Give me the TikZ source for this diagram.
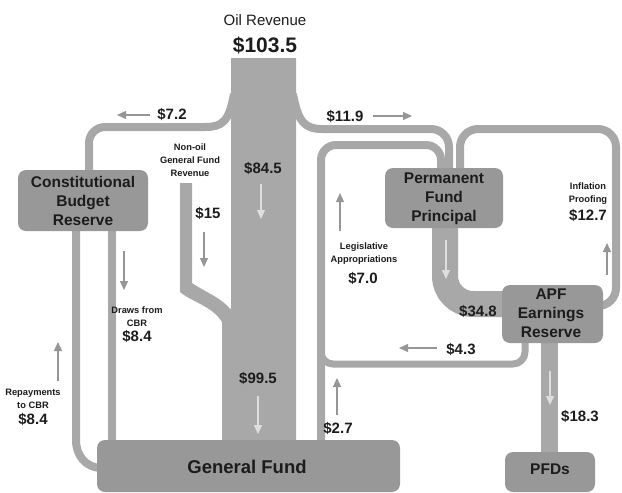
\documentclass[tikz,border=0pt]{standalone}
\usepackage{fontspec}
\setmainfont{Liberation Sans}
\usetikzlibrary{arrows.meta}
\definecolor{stripgray}{RGB}{168,168,168}
\definecolor{boxgray}{RGB}{152,152,152}
\definecolor{arrowgray}{RGB}{150,150,150}
\definecolor{lightarrow}{RGB}{222,222,222}
\definecolor{txt}{RGB}{28,28,28}
\begin{document}
\begin{tikzpicture}[x=1pt,y=-1pt,
  strip/.style={draw=stripgray, line cap=butt, line join=round},
  box/.style={fill=boxgray, draw=none, rounded corners=8pt, inner sep=0pt},
  flowarrow/.style={draw=arrowgray, line width=1.2pt, -{Triangle[width=8pt,length=9pt]}},
  inarrow/.style={draw=lightarrow, line width=1.2pt, -{Triangle[width=8pt,length=9pt]}},
  boxtext/.style={font=\fontsize{15.5}{19}\selectfont\bfseries, text=txt, align=center},
  val/.style={font=\fontsize{15}{18}\selectfont\bfseries, text=txt, inner sep=0pt},
  small/.style={font=\fontsize{9.3}{13}\selectfont\bfseries, text=txt, align=center, inner sep=0pt}]
\useasboundingbox (0,0) rectangle (622,493);
\fill[white] (0,0) rectangle (622,493);

% --- strips (flows) ---
% oil column
\fill[stripgray] (231,58) -- (296,58) -- (296,446) -- (222,446) -- (222,320) -- (231,308) -- cycle;
% non-oil general fund revenue
\fill[stripgray] (180,183) -- (192,183) -- (192,283) .. controls (205,292) and (222,298) .. (231,310)
  -- (231,322) -- (222,322) .. controls (212,306) and (192,302) .. (180,292) -- cycle;
% $7.2 to CBR
\draw[strip, line width=8pt] (234,94) .. controls (229,122) and (222,127) .. (205,127)
  [rounded corners=16pt] -- (89,127) -- (89,174);
% $11.9 to PFP
\draw[strip, line width=8pt] (293,94) .. controls (298,122) and (305,129) .. (322,129)
  [rounded corners=18pt] -- (449,129) -- (449,172);
% legislative appropriations loop
\draw[strip, line width=8pt, rounded corners=15pt] (321,444) -- (321,145) -- (441,145) -- (441,172);
% inflation proofing loop
\draw[strip, line width=8pt, rounded corners=18pt] (460,172) -- (460,129) -- (616,129) -- (616,306) -- (598,306);
% $4.3 from APF
\draw[strip, line width=7pt, rounded corners=12pt] (525,340) -- (525,364) -- (321,364) -- (321,340);
% $34.8 PFP to APF
\draw[strip, line width=26pt, rounded corners=28pt] (445,225) -- (445,304) -- (505,304);
% $18.3 APF to PFDs
\draw[strip, line width=17pt] (549,340) -- (549,455);
% draws from CBR
\draw[strip, line width=8pt] (112,228) -- (112,443);
% repayments to CBR
\draw[strip, line width=8pt] (76,228) -- (76,440) .. controls (76,456) and (86,467) .. (100,468);

% --- boxes ---
\node[box, minimum width=130pt, minimum height=61pt] (cbr) at (83,200.5) {};
\node[boxtext] (cbrtext) at (83,201) {Constitutional\\Budget\\Reserve};
\node[box, minimum width=118pt, minimum height=60pt] (pfp) at (444,198) {};
\node[boxtext] (pfptext) at (444,198.5) {Permanent\\Fund\\Principal};
\node[box, minimum width=101pt, minimum height=58pt] (apf) at (552.5,314) {};
\node[boxtext] (apftext) at (551,313) {APF\\Earnings\\Reserve};
\node[box, minimum width=303pt, minimum height=52pt] (gf) at (248.5,466) {};
\node[font=\fontsize{18.5}{22}\selectfont\bfseries, text=txt] (gftext) at (247,467) {General Fund};
\node[box, minimum width=90pt, minimum height=40pt] (pfd) at (550,472) {};
\node[boxtext] (pfdtext) at (550,469) {PFDs};

% --- titles and values ---
\node[font=\fontsize{15}{18}\selectfont, text=txt] (oiltitle) at (265,20) {Oil Revenue};
\node[font=\fontsize{21}{24}\selectfont\bfseries, text=txt] (oilval) at (265,45) {\$103.5};
\node[val] (v72) at (172,114) {\$7.2};
\node[val] (v119) at (345,116) {\$11.9};
\node[val] (v845) at (263,168) {\$84.5};
\node[val] (v15) at (208,213) {\$15};
\node[val] (v995) at (258,378) {\$99.5};
\node[val] (v27) at (338,428) {\$2.7};
\node[val] (v348) at (478,311) {\$34.8};
\node[val] (v43) at (461,349) {\$4.3};
\node[val] (v183) at (580,416) {\$18.3};

\node[small] (nonoil) at (190,160) {Non-oil\\General Fund\\Revenue};
\node[small] (draws) at (137,316.5) {Draws from\\CBR};
\node[val] (v84a) at (137,336) {\$8.4};
\node[small] (repay) at (33,398.5) {Repayments\\to CBR};
\node[val] (v84b) at (33,419) {\$8.4};
\node[small] (legis) at (364,254) {Legislative\\Appropriations};
\node[val] (v70) at (363,278) {\$7.0};
\node[small] (infl) at (588,193.5) {Inflation\\Proofing};
\node[val] (v127) at (588,215) {\$12.7};

% --- direction arrows ---
\draw[flowarrow] (150,115) -- (117,115);
\draw[flowarrow] (373,116) -- (412,116);
\draw[inarrow] (261,184) -- (261,219);
\draw[flowarrow] (204,232) -- (204,267);
\draw[flowarrow] (124,251) -- (124,290);
\draw[flowarrow] (58,381) -- (58,342);
\draw[inarrow] (258,396) -- (258,434);
\draw[flowarrow] (337,415) -- (337,378);
\draw[flowarrow] (340,231) -- (340,193);
\draw[inarrow] (446,240) -- (446,279);
\draw[flowarrow] (437,348) -- (399,348);
\draw[inarrow] (550,371) -- (550,405);
\draw[flowarrow] (607,275) -- (607,243);
\end{tikzpicture}
\end{document}
